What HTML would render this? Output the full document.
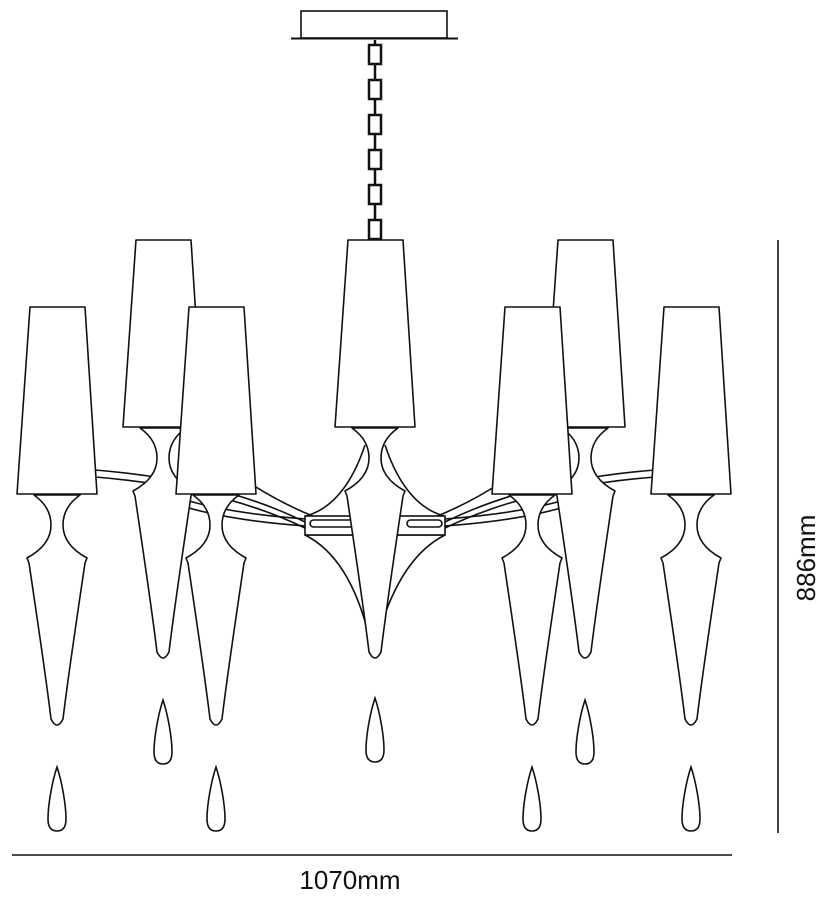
<!DOCTYPE html>
<html><head><meta charset="utf-8"><style>
html,body{margin:0;padding:0;background:#fff;}
svg{display:block;}
text{font-family:"Liberation Sans",sans-serif;}
</style></head><body>
<svg width="827" height="900" viewBox="0 0 827 900" xmlns="http://www.w3.org/2000/svg">
<defs>
<g id="lamp" fill="#fff" stroke="#111" stroke-width="1.6" stroke-linejoin="round">
  <path d="M-23,188 Q-6,200 -6,218 Q-6,238 -30,251 L-28,256 C-20,310 -11,370 -6,412 Q0,424 6,412 C11,370 20,310 28,256 L30,251 Q6,238 6,218 Q6,200 23,188 Z"/>
  <path d="M-27,0 L28,0 L40,187 L-40,187 Z"/>
</g>
<path id="drop" d="M0,0 C5,15 9,38 9,52 Q9,64 0,64 Q-9,64 -9,52 C-9,38 -5,15 0,0 Z" fill="#fff" stroke="#111" stroke-width="1.6"/>
</defs>

<rect x="301" y="11" width="146" height="27" fill="#fff" stroke="#111" stroke-width="1.6"/>
<line x1="291" y1="38.5" x2="458" y2="38.5" stroke="#111" stroke-width="2"/>
<line x1="375" y1="40" x2="375" y2="240" stroke="#111" stroke-width="2.5"/>
<g fill="#fff" stroke="#111" stroke-width="2.5">
<rect x="369" y="45" width="12" height="19"/>
<rect x="369" y="80" width="12" height="19"/>
<rect x="369" y="115" width="12" height="19"/>
<rect x="369" y="150" width="12" height="19"/>
<rect x="369" y="185" width="12" height="19"/>
<rect x="369" y="220" width="12" height="19"/>
</g>

<g fill="none" stroke="#111" stroke-width="1.6">
<path d="M95,470 Q220,480 305,522"/>
<path d="M95,477 Q220,487 305,528"/>
<path d="M655,470 Q530,480 445,522"/>
<path d="M655,477 Q530,487 445,528"/>
<path d="M170,495 Q240,520 380,522"/>
<path d="M170,502 Q240,527 380,529"/>
<path d="M580,495 Q510,520 370,522"/>
<path d="M580,502 Q510,527 370,529"/>
<path d="M245,480 Q290,510 340,526"/>
<path d="M505,480 Q460,510 410,526"/>
</g>

<use href="#lamp" x="163" y="240"/>
<use href="#lamp" x="585" y="240"/>

<g fill="#fff" stroke="#111" stroke-width="1.6">
<path d="M305,535 Q355,560 373,655 Q395,560 445,535 Z"/>
<path d="M306,516 Q345,505 365,445 M444,516 Q405,505 385,445" fill="none"/>
<rect x="305" y="516" width="140" height="19"/>
<rect x="310" y="520" width="45" height="7" rx="3.5"/>
<rect x="407" y="520" width="35" height="7" rx="3.5"/>
</g>
<use href="#lamp" x="375" y="240"/>

<use href="#lamp" x="57" y="307"/>
<use href="#lamp" x="216" y="307"/>
<use href="#lamp" x="532" y="307"/>
<use href="#lamp" x="691" y="307"/>

<use href="#drop" x="163" y="700"/>
<use href="#drop" x="375" y="698"/>
<use href="#drop" x="585" y="700"/>
<use href="#drop" x="57" y="767"/>
<use href="#drop" x="216" y="767"/>
<use href="#drop" x="532" y="767"/>
<use href="#drop" x="691" y="767"/>

<line x1="12" y1="855" x2="732" y2="855" stroke="#111" stroke-width="1.6"/>
<text x="350" y="889" font-size="26" text-anchor="middle" fill="#111">1070mm</text>
<line x1="778" y1="240" x2="778" y2="833" stroke="#111" stroke-width="1.6"/>
<text transform="translate(815,558) rotate(-90)" font-size="26" text-anchor="middle" fill="#111">886mm</text>
</svg>
</body></html>
